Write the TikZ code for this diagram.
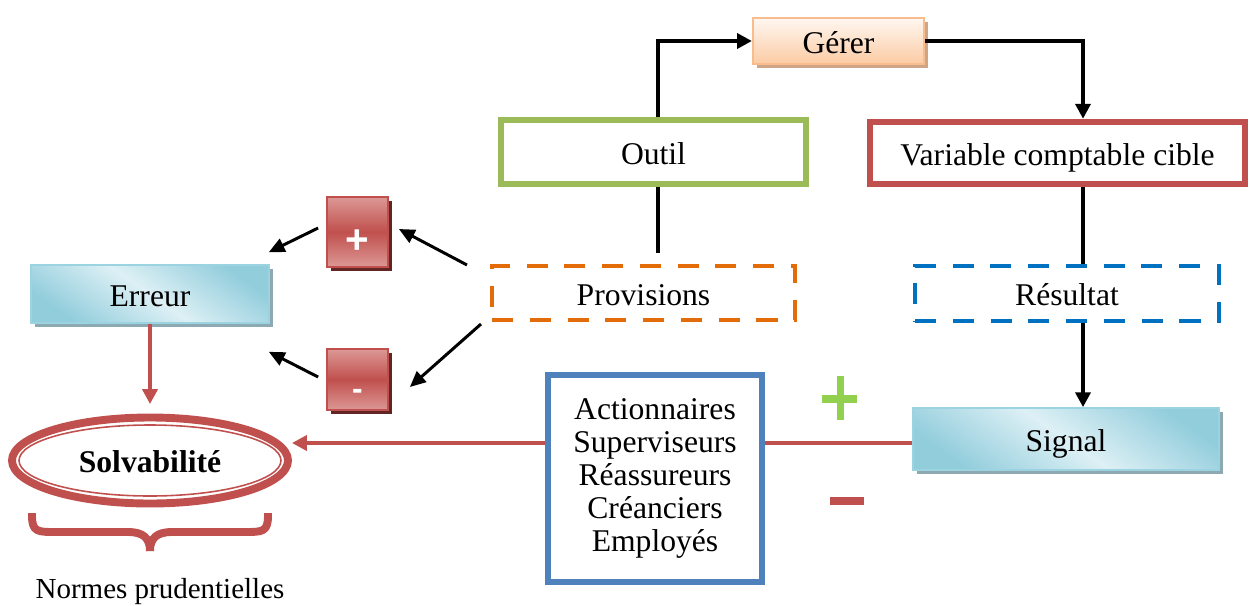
\documentclass[tikz,border=0pt]{standalone}
\usepackage{fontspec}
\setmainfont{Liberation Serif}
\newfontfamily\signfont{Liberation Sans}
\usetikzlibrary{arrows.meta,calc,shadows,shapes.geometric}

\definecolor{okGreen}{HTML}{9BBB59}
\definecolor{brickRed}{HTML}{C0504D}
\definecolor{provOrange}{HTML}{E36C09}
\definecolor{resBlue}{HTML}{0070C0}
\definecolor{actBlue}{HTML}{4F81BD}
\definecolor{cyanLight}{HTML}{DDF0F5}
\definecolor{cyanDark}{HTML}{92CDDC}
\definecolor{cyanEdge}{HTML}{9CD3E0}
\definecolor{cyanShadow}{HTML}{8DA9B2}
\definecolor{peachLight}{HTML}{FFF7F1}
\definecolor{peachDark}{HTML}{FBCBA3}
\definecolor{peachEdge}{HTML}{F9BC8C}
\definecolor{peachShadow}{HTML}{CFA585}
\definecolor{redLight}{HTML}{DC9896}
\definecolor{redShadow}{HTML}{632523}
\definecolor{signGreen}{HTML}{92D050}

% one drawing unit = one pixel of a 1250 x 605 canvas
\newcommand\pxu{0.02cm}

\tikzset{
  txt/.style={font=\fontsize{18}{18.9}\selectfont, inner sep=0pt, align=center},
  oneline/.style={txt, text height=17.3pt, text depth=3.6pt},
  solidbox/.style={oneline, draw=#1, line width=3.7pt, fill=white},
  dashbox/.style={oneline, draw=#1, line width=2.3pt, dash pattern=on 12pt off 9.5pt},
  cyanbox/.style={oneline, draw=cyanEdge, line width=0.9pt,
    top color=cyanDark, bottom color=cyanDark, middle color=cyanLight, shading angle=-35,
    general shadow={fill=cyanShadow, shadow xshift=2pt, shadow yshift=-2.2pt}},
  peachbox/.style={oneline, draw=peachEdge, line width=1.2pt,
    top color=peachLight, bottom color=peachDark,
    general shadow={fill=peachShadow, shadow xshift=2pt, shadow yshift=-2.2pt}},
  signbox/.style={inner sep=0pt, draw=brickRed, line width=1pt,
    top color=redLight, bottom color=redLight, middle color=brickRed,
    text=white, font=\signfont\bfseries,
    general shadow={fill=redShadow, shadow xshift=2pt, shadow yshift=-2.5pt}},
  conn/.style={line width=2.2pt},
  arr/.style={conn, -{Triangle[length=8.5pt,width=8.5pt]}},
  thinarr/.style={line width=1.7pt, -{Triangle[length=9pt,width=8pt]}},
  redline/.style={draw=brickRed, line width=2.8pt},
  redarr/.style={redline, -{Triangle[length=8.5pt,width=8.5pt]}},
}

\begin{document}
\begin{tikzpicture}[x=\pxu, y=-\pxu]
\useasboundingbox (0,0) rectangle (1250,605);

% columns of the vertical connectors and height of the red link
\coordinate (lx) at (658,0);
\coordinate (rx) at (1083,0);
\coordinate (ly) at (0,443);

% boxes
\node[peachbox, minimum width=171*\pxu, minimum height=46*\pxu] (gerer) at (838.5,41) {Gérer};
\node[solidbox=okGreen, minimum width=305*\pxu, minimum height=64*\pxu] (outil) at (653.5,152) {Outil};
\node[solidbox=brickRed, minimum width=375*\pxu, minimum height=62*\pxu] (var) at (1057.5,153) {Variable comptable cible};
\node[dashbox=provOrange, minimum width=303*\pxu, minimum height=54*\pxu] (prov) at (643.5,293) {Provisions};
\node[dashbox=resBlue, minimum width=304*\pxu, minimum height=55*\pxu] (res) at (1067,293.5) {Résultat};
\node[cyanbox, minimum width=238*\pxu, minimum height=58*\pxu] (err) at (150,294) {Erreur};
\node[cyanbox, minimum width=306*\pxu, minimum height=62*\pxu] (sig) at (1066,439) {Signal};
\node[signbox, minimum width=61*\pxu, minimum height=70*\pxu] (plus) at (357.5,232)
  {\fontsize{23}{23}\selectfont\raisebox{-12pt}[0pt][0pt]{+}};
\node[signbox, minimum width=61*\pxu, minimum height=61*\pxu] (minus) at (357.5,379.5)
  {\fontsize{18}{18}\selectfont\raisebox{-11.5pt}[0pt][0pt]{-}};
\node[txt, draw=actBlue, line width=3.7pt, fill=white,
  minimum width=214*\pxu, minimum height=207*\pxu] (act) at (655,478.5)
  {Actionnaires\\Superviseurs\\Réassureurs\\Créanciers\\Employés};

% Solvabilité: thick ring with a thin inner line
\node[oneline, ellipse, draw=brickRed, line width=4.5pt, font=\fontsize{18}{18.9}\selectfont\bfseries,
  minimum width=276*\pxu, minimum height=86*\pxu] (solv) at (150,460.5) {Solvabilité};
\draw[brickRed, line width=0.9pt] (solv.center) ellipse [x radius=131*\pxu, y radius=35.5*\pxu];

% brace and caption
\draw[brickRed, line width=4.5pt]
  (32,513) -- (32,516) .. controls (32,532) and (38,532) .. (55,532) -- (128,532)
  .. controls (143,532) and (150,538) .. (150,551);
\draw[brickRed, line width=4.5pt]
  (268,513) -- (268,516) .. controls (268,532) and (262,532) .. (245,532) -- (172,532)
  .. controls (157,532) and (150,538) .. (150,551);
\node[txt, font=\fontsize{16.5}{18}\selectfont, anchor=base] (normes) at (160,598) {Normes prudentielles};

% plus / minus marks
\fill[signGreen] (837,376) rectangle (844,420);
\fill[signGreen] (822,395) rectangle (857,403);
\fill[brickRed] (830,497) rectangle (864,505);

% black connectors
\draw[arr] (lx |- outil.north) |- (gerer.west);
\draw[arr] (gerer.east) -| (rx |- var.north);
\draw[conn, shorten >=6pt] (lx |- outil.south) -- (lx |- prov.north);
\draw[conn] (rx |- var.south) -- (rx |- res.north);
\draw[arr] (rx |- res.south) -- (rx |- sig.north);

\draw[thinarr] ($(prov.north west)+(-23,1)$) -- ($(plus.east)+(10,-3)$);
\draw[thinarr] ($(prov.south west)+(-9,2)$) -- ($(minus.east)+(21,7.5)$);
\draw[thinarr] ($(plus.west)+(-8,-4)$) -- ($(err.north east)+(-1,-12)$);
\draw[thinarr] ($(minus.west)+(-8,-2.5)$) -- ($(err.south east)+(-1,28)$);

% red connectors
\draw[redarr, shorten >=5.4pt] (err.south) -- (solv.north);
\draw[redline] (sig.west |- ly) -- (act.east |- ly);
\draw[redarr] (act.west |- ly) -- (solv.east |- ly);
\end{tikzpicture}
\end{document}
